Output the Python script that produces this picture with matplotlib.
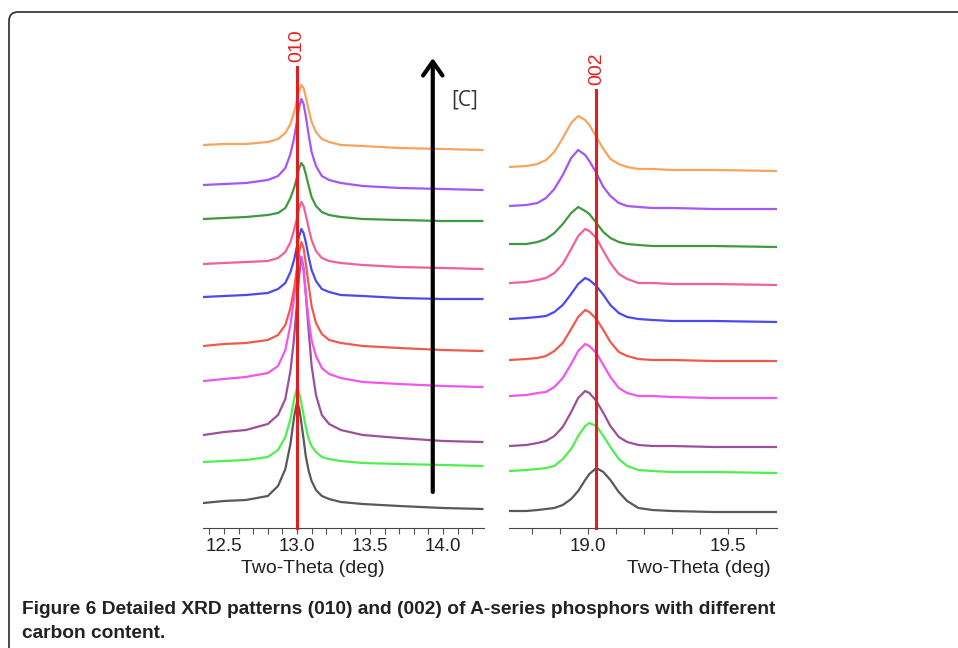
"""Detailed XRD patterns (010) and (002) of A-series phosphors, stacked by carbon content."""

import matplotlib.pyplot as plt
from matplotlib.patches import FancyBboxPatch
from matplotlib.ticker import MultipleLocator

# two-theta sampling (deg)
TT_010 = [12.36, 12.5, 12.65, 12.8, 12.87, 12.92, 12.955, 12.98, 13.0, 13.015, 13.03,
          13.045, 13.06, 13.08, 13.1, 13.13, 13.17, 13.22, 13.3, 13.45, 13.7, 14.0, 14.27]
TT_002 = [18.72, 18.78, 18.82, 18.85, 18.88, 18.91, 18.94, 18.965, 18.99, 19.005,
          19.03, 19.055, 19.08, 19.11, 19.14, 19.18, 19.23, 19.3, 19.45, 19.675]

# stacked intensities (a.u., offset included), bottom trace first
I010_GRAY = [25, 27, 28, 32, 42, 59, 84, 111, 126, 120, 105, 89, 72, 57, 47, 38, 32, 29, 26, 24, 22, 20, 19]
I010_LGREEN = [66, 67, 68, 71, 78, 91, 109, 129, 140, 135, 125, 113, 101, 89, 82, 76, 71, 69, 67, 65, 64, 63, 62]
I010_DPURPLE = [93, 96, 98, 104, 113, 129, 157, 190, 226, 253, 271, 260, 234, 197, 162, 133, 113, 104, 98, 93, 90, 87, 86]
I010_MAGENTA = [147, 149, 151, 155, 162, 178, 203, 230, 256, 272, 271, 256, 235, 208, 188, 172, 160, 154, 150, 146, 144, 142, 141]
I010_RED = [182, 184, 185, 188, 193, 203, 220, 239, 260, 276, 286, 280, 265, 243, 222, 205, 194, 188, 185, 182, 180, 178, 177]
I010_BLUE = [231, 232, 233, 235, 239, 245, 256, 268, 282, 292, 299, 295, 286, 271, 258, 247, 239, 236, 233, 232, 230, 229, 229]
I010_PINK = [264, 265, 266, 267, 270, 276, 286, 298, 310, 320, 326, 322, 313, 300, 288, 277, 270, 267, 265, 263, 261, 260, 259]
I010_GREEN = [309, 310, 311, 313, 315, 320, 330, 340, 351, 360, 365, 362, 354, 342, 331, 322, 316, 313, 311, 309, 308, 307, 307]
I010_PURPLE = [343, 344, 345, 348, 352, 360, 374, 390, 407, 421, 429, 424, 412, 393, 376, 362, 352, 348, 345, 342, 340, 339, 338]
I010_ORANGE = [383, 384, 384, 386, 389, 395, 404, 416, 428, 437, 443, 440, 431, 418, 406, 396, 389, 386, 383, 382, 380, 379, 378]

I002_GRAY = [17, 17, 18, 19, 20, 23, 29, 37, 48, 54, 60, 56, 48, 36, 27, 20, 18, 17, 16, 16]
I002_LGREEN = [57, 58, 59, 60, 62, 69, 79, 92, 102, 105, 102, 92, 81, 69, 62, 58, 57, 56, 56, 55]
I002_DPURPLE = [82, 83, 85, 87, 92, 101, 116, 130, 137, 135, 127, 115, 102, 91, 86, 83, 82, 82, 81, 81]
I002_MAGENTA = [132, 133, 135, 136, 141, 150, 164, 177, 184, 182, 175, 163, 151, 140, 135, 132, 132, 131, 130, 130]
I002_RED = [168, 169, 170, 172, 177, 185, 199, 211, 218, 216, 209, 198, 186, 176, 172, 169, 168, 168, 167, 167]
I002_BLUE = [209, 210, 211, 212, 216, 223, 234, 244, 250, 248, 242, 233, 223, 215, 211, 209, 208, 207, 207, 206]
I002_PINK = [245, 246, 248, 250, 255, 264, 279, 292, 299, 297, 290, 277, 265, 254, 249, 245, 245, 244, 244, 243]
I002_GREEN = [284, 284, 286, 289, 295, 304, 315, 321, 317, 314, 305, 296, 290, 286, 284, 283, 282, 282, 282, 281]
I002_PURPLE = [322, 323, 325, 330, 339, 353, 370, 378, 373, 367, 355, 341, 332, 325, 322, 321, 320, 320, 319, 319]
I002_ORANGE = [361, 362, 364, 368, 376, 390, 405, 412, 408, 403, 391, 379, 369, 364, 361, 359, 359, 358, 358, 357]

COLORS = ["#595959", "#4FEF4F", "#9C4F9C", "#F056F0", "#F05A4C",
          "#4A4AF0", "#F0609E", "#3F9A3F", "#A457F4", "#F7A45E"]

PEAK_010 = 13.0
PEAK_002 = 19.03
REF_RED = "#E41E1E"

traces_010 = [I010_GRAY, I010_LGREEN, I010_DPURPLE, I010_MAGENTA, I010_RED,
              I010_BLUE, I010_PINK, I010_GREEN, I010_PURPLE, I010_ORANGE]
traces_002 = [I002_GRAY, I002_LGREEN, I002_DPURPLE, I002_MAGENTA, I002_RED,
              I002_BLUE, I002_PINK, I002_GREEN, I002_PURPLE, I002_ORANGE]

plt.rcParams["font.family"] = ["Liberation Sans", "DejaVu Sans"]

fig = plt.figure(figsize=(9.58, 6.48), dpi=100)

# rounded caption frame, open at right and bottom
bg = fig.add_axes([0, 0, 1, 1], zorder=-5)
bg.set_xlim(0, 958)
bg.set_ylim(648, 0)
bg.axis("off")
bg.add_patch(FancyBboxPatch((9, 12), 1000, 700,
                            boxstyle="round,pad=0,rounding_size=9",
                            fill=False, edgecolor="#2b2b2b", linewidth=1.2,
                            clip_on=False))

ax_l = fig.add_axes([203 / 958, 120 / 648, 281 / 958, 500 / 648])
ax_r = fig.add_axes([509 / 958, 120 / 648, 268 / 958, 500 / 648])

for y, c in zip(traces_010, COLORS):
    ax_l.plot(TT_010, y, color=c, lw=1.6, solid_joinstyle="round")
for y, c in zip(traces_002, COLORS):
    ax_r.plot(TT_002, y, color=c, lw=1.6, solid_joinstyle="round")

# reference reflections
ax_l.plot([PEAK_010, PEAK_010], [0, 461], color=REF_RED, lw=2.2, zorder=5,
          clip_on=False)
ax_l.text(PEAK_010, 482, "010", rotation=90, color=REF_RED, fontsize=14,
          ha="center", va="center")
ax_r.plot([PEAK_002, PEAK_002], [0, 438], color=REF_RED, lw=2.2, zorder=5,
          clip_on=False)
ax_r.text(PEAK_002, 459, "002", rotation=90, color=REF_RED, fontsize=14,
          ha="center", va="center")

# carbon-content arrow
ax_l.annotate("", xy=(13.93, 470), xytext=(13.93, 36),
              arrowprops=dict(arrowstyle="->,head_length=0.5,head_width=0.35",
                              lw=3, color="black", mutation_scale=20,
                              shrinkA=0, shrinkB=0))
ax_l.text(14.15, 428, "[C]", fontsize=15, color="#333333",
          family=["Open Sans", "DejaVu Sans"], ha="center", va="center")

ax_l.set_xlim(12.356, 14.281)
ax_r.set_xlim(18.718, 19.675)
for ax, lx in ((ax_l, 0.39), (ax_r, 0.71)):
    ax.set_ylim(0, 500)
    ax.set_yticks([])
    for s in ("top", "left", "right"):
        ax.spines[s].set_visible(False)
    ax.spines["bottom"].set_color("#444444")
    ax.xaxis.set_major_locator(MultipleLocator(0.5))
    ax.xaxis.set_minor_locator(MultipleLocator(0.1))
    ax.xaxis.set_major_formatter(plt.FormatStrFormatter("%.1f"))
    ax.tick_params(axis="x", which="both", direction="out", length=4,
                   width=0.8, color="#555555", labelsize=13.5, pad=3,
                   labelcolor="#222222")
    ax.set_xlabel("Two-Theta (deg)", fontsize=14, color="#222222")
    ax.xaxis.set_label_coords(lx, -0.064)

fig.text(22 / 958, 1 - 610 / 648,
         "Figure 6 Detailed XRD patterns (010) and (002) of A-series phosphors with different",
         fontsize=13.8, fontweight="bold", color="#222222", ha="left", va="center")
fig.text(22 / 958, 1 - 634 / 648, "carbon content.",
         fontsize=13.8, fontweight="bold", color="#222222", ha="left", va="center")

fig.savefig("out.png", dpi=100, facecolor="white")
